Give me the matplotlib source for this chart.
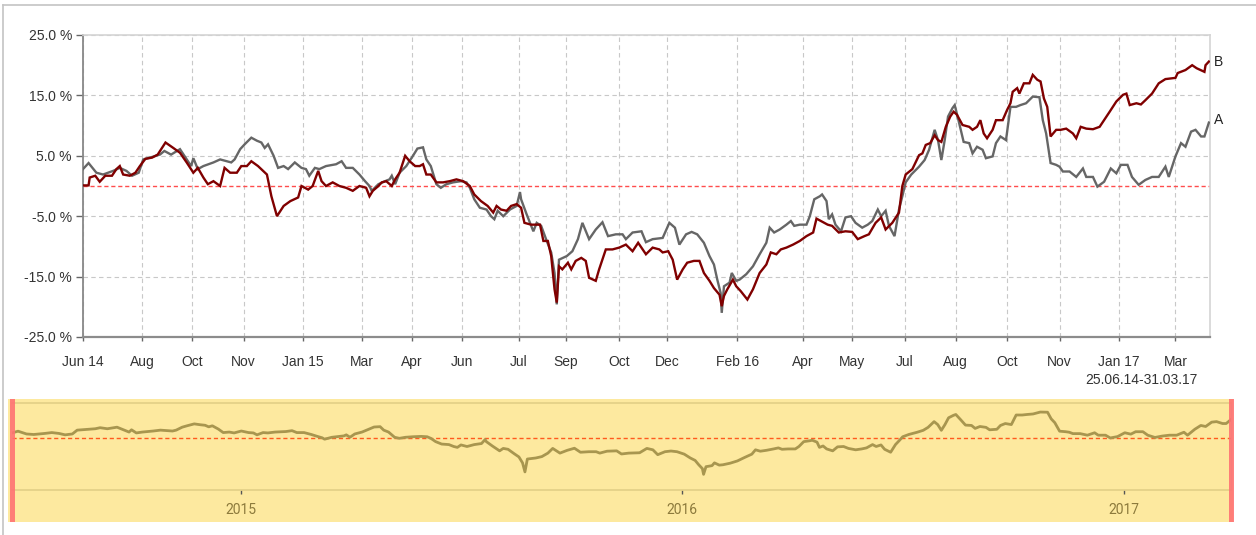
import matplotlib
matplotlib.use("Agg")
import matplotlib.pyplot as plt
import numpy as np
from matplotlib.patches import Rectangle
from matplotlib.lines import Line2D

# ---------------- data (days since 25.06.2014, performance in %) ----------------
start_date = np.datetime64("2014-06-25")

days_a = [0, 5, 12, 18, 27, 33, 39, 44, 50, 54, 60, 69, 73, 79, 87, 93, 97, 99, 103, 108,
          117, 123, 129, 133, 136, 141, 145, 151, 156, 160, 163, 166, 171, 175, 180, 184, 190,
          196, 200, 203, 208, 212, 218, 227, 232, 236, 242, 248, 253, 257, 259, 265, 271, 275,
          277, 280, 284, 290, 296, 300, 305, 308, 312, 317, 321, 326, 332, 339, 344, 347, 351,
          356, 362, 366, 369, 372, 377, 383, 389, 392, 393, 398, 404, 407, 411, 416, 420, 423,
          425, 427, 434, 439, 444, 448, 454, 460, 466, 471, 478, 484, 487, 493, 501, 505, 511,
          520, 526, 531, 535, 541, 546, 551, 557, 562, 566, 569, 572, 573, 575, 580, 582, 586,
          589, 595, 601, 607, 613, 616, 620, 625, 631, 635, 638, 643, 649, 652, 656, 661, 663,
          667, 669, 672, 675, 680, 684, 689, 693, 699, 704, 708, 713, 716, 720, 723, 728, 732,
          735, 738, 743, 750, 755, 759, 764, 767, 770, 773, 776, 780, 782, 786, 790, 795, 798,
          802, 807, 810, 816, 819, 823, 828, 832, 837, 841, 846, 852, 858, 861, 864, 868, 873,
          876, 879, 885, 891, 897, 900, 906, 910, 916, 922, 927, 931, 937, 941, 947, 953, 959,
          965, 971, 974, 980, 985, 989, 994, 998, 1003, 1006, 1010]
vals_a = [2.8, 3.8, 2.2, 1.9, 2.5, 3.0, 2.5, 1.7, 2.2, 4.4, 4.7, 5.2, 5.8, 5.2, 6.1, 4.4, 3.3, 4.6,
          2.8, 3.3, 3.9, 4.4, 4.1, 3.9, 4.4, 6.1, 6.9, 8.0, 7.5, 7.2, 6.3, 6.9, 5.0, 3.0, 3.3, 2.8,
          3.9, 3.0, 2.8, 1.7, 3.0, 2.8, 3.3, 3.6, 4.1, 3.0, 3.0, 1.9, 0.8, 0.0, -0.8, 0.3, 0.8, 1.1,
          1.7, 0.3, 2.2, 3.3, 5.0, 6.2, 6.4, 4.4, 3.3, 0.3, -0.3, 0.3, 0.6, 0.8, 0.6, -0.3, -2.2,
          -3.6, -3.9, -5.0, -5.5, -4.1, -5.0, -3.9, -3.3, -1.0, -2.2, -4.7, -7.5, -6.1, -6.6, -9.1,
          -11.0, -14.4, -19.6, -12.2, -11.6, -10.8, -8.8, -6.1, -8.8, -7.2, -6.0, -8.3, -8.0, -8.0,
          -8.8, -7.7, -7.5, -9.3, -8.8, -8.6, -6.1, -6.9, -9.7, -8.0, -7.6, -8.0, -9.4, -11.6, -13.0,
          -15.5, -17.7, -21.0, -16.6, -16.0, -14.4, -15.7, -15.5, -14.6, -13.3, -11.3, -9.4, -6.9,
          -7.7, -7.2, -6.4, -5.8, -6.6, -6.4, -6.4, -5.0, -2.2, -1.7, -1.4, -2.5, -5.5, -4.7, -6.4,
          -7.5, -5.2, -5.0, -6.1, -6.9, -6.4, -5.8, -3.9, -5.0, -4.1, -6.6, -8.3, -3.9, -1.7, 0.6,
          1.9, 3.2, 4.3, 6.0, 9.3, 7.6, 4.3, 7.6, 11.5, 12.9, 13.4, 10.4, 7.3, 7.1, 5.4, 6.5, 6.0,
          4.6, 4.9, 7.1, 8.2, 7.6, 13.1, 13.1, 13.4, 13.7, 14.8, 14.7, 10.9, 8.7, 3.8, 3.5, 3.2,
          2.4, 2.4, 1.5, 2.9, 1.5, 1.5, -0.1, 0.7, 2.9, 2.1, 3.5, 3.5, 1.5, 0.2, 1.0, 1.5, 1.5,
          3.2, 1.5, 4.9, 7.1, 6.5, 9.0, 9.3, 8.2, 8.2, 10.5]

days_b = [0, 5, 6, 11, 15, 20, 26, 30, 33, 36, 42, 47, 51, 56, 62, 67, 74, 81, 87, 93, 99, 103,
          108, 112, 117, 123, 127, 132, 138, 142, 147, 151, 157, 165, 169, 174, 180, 186, 193, 196,
          202, 206, 211, 214, 218, 224, 230, 236, 242, 248, 254, 257, 260, 265, 268, 272, 277, 280,
          284, 289, 293, 298, 302, 305, 308, 312, 317, 323, 329, 335, 341, 347, 351, 357, 363, 368,
          371, 375, 380, 384, 389, 393, 396, 402, 410, 413, 417, 420, 423, 425, 427, 430, 435, 438,
          442, 447, 451, 454, 460, 463, 469, 475, 481, 487, 493, 498, 505, 511, 517, 520, 525, 529,
          533, 538, 542, 548, 553, 557, 562, 566, 571, 573, 575, 578, 583, 586, 590, 596, 601, 607,
          613, 617, 622, 626, 631, 637, 643, 649, 655, 658, 662, 668, 672, 678, 684, 690, 695, 701,
          705, 711, 716, 720, 726, 732, 735, 738, 744, 750, 753, 756, 760, 764, 767, 770, 774, 778,
          781, 784, 789, 795, 798, 802, 805, 808, 811, 816, 819, 825, 829, 832, 834, 838, 840, 844,
          849, 852, 856, 859, 862, 865, 868, 873, 877, 882, 888, 891, 895, 900, 906, 912, 916, 921,
          927, 933, 936, 939, 945, 949, 953, 959, 965, 971, 980, 982, 989, 995, 999, 1006, 1007, 1010]
vals_b = [0.1, 0.1, 1.4, 1.7, 0.7, 1.7, 1.7, 2.8, 3.3, 1.9, 1.7, 2.2, 3.3, 4.5, 4.7, 5.2, 7.2, 6.3,
          5.5, 3.9, 2.2, 3.0, 1.4, 0.3, 0.8, 0.0, 3.0, 2.2, 2.2, 3.3, 3.3, 4.1, 3.3, 1.9, -1.7, -5.0,
          -3.3, -2.5, -1.9, 0.0, -0.6, 0.0, 2.5, 0.8, 0.0, 0.6, 0.0, -0.3, -0.8, 0.0, -0.3, -1.7,
          -0.8, 0.0, 0.6, 0.8, 0.0, 1.1, 2.2, 5.0, 4.1, 3.3, 3.3, 3.6, 1.9, 1.9, 0.6, 0.6, 0.8, 1.1,
          0.8, 0.0, -1.4, -2.5, -3.3, -4.4, -3.3, -3.9, -4.1, -3.3, -3.0, -3.6, -6.1, -6.4, -6.4,
          -9.1, -9.1, -11.6, -17.1, -19.3, -13.3, -13.8, -12.7, -13.8, -12.4, -11.9, -12.4, -15.2,
          -15.7, -13.8, -10.5, -10.5, -10.2, -9.7, -10.8, -9.4, -11.3, -10.2, -10.5, -11.0, -10.8,
          -12.2, -15.5, -13.8, -12.7, -12.4, -12.4, -14.4, -15.7, -16.9, -18.0, -19.9, -18.2, -17.1,
          -15.5, -16.6, -17.4, -18.8, -17.1, -14.4, -13.0, -11.0, -11.3, -10.5, -10.2, -9.7, -9.1,
          -8.3, -7.7, -5.4, -5.8, -6.4, -6.6, -7.7, -7.5, -7.6, -8.8, -8.3, -8.0, -6.1, -5.2, -7.2,
          -6.1, -4.4, 0.0, 1.9, 2.8, 5.1, 5.4, 6.8, 7.1, 8.4, 7.6, 7.3, 9.8, 11.5, 12.3, 11.8, 10.1,
          9.8, 9.3, 9.8, 10.9, 8.7, 7.9, 9.3, 10.9, 10.9, 12.6, 13.7, 15.6, 16.2, 15.3, 17.0, 17.0,
          18.4, 17.6, 17.3, 14.5, 13.1, 8.2, 9.3, 9.3, 9.5, 8.7, 7.9, 9.8, 9.5, 9.4, 9.8, 10.9, 12.3,
          14.0, 15.1, 15.3, 13.4, 13.7, 13.5, 14.2, 15.3, 17.0, 17.7, 17.9, 18.7, 19.2, 20.0, 19.5,
          18.9, 20.0, 20.6]

series_labels = ["A", "B"]
tick_days = [0, 53, 98, 144, 197, 250, 295, 340, 391, 433, 481, 524, 587, 646, 690, 737,
             783, 829, 876, 929, 980]
tick_labels = ["Jun 14", "Aug", "Oct", "Nov", "Jan 15", "Mar", "Apr", "Jun", "Jul", "Sep",
               "Oct", "Dec", "Feb 16", "Apr", "May", "Jul", "Aug", "Oct", "Nov", "Jan 17", "Mar"]
y_ticks = [-25, -15, -5, 5, 15, 25]
year_labels = ["2015", "2016", "2017"]
period_text = "25.06.14-31.03.17"

# ---------------- figure ----------------
W, H = 1256, 535
plt.rcParams["font.family"] = ["Liberation Sans", "DejaVu Sans"]
fig = plt.figure(figsize=(W / 100, H / 100), dpi=100)
fig.patch.set_facecolor("white")


def frame(x0, y0, x1, y1):
    return [x0 / W, 1 - y1 / H, (x1 - x0) / W, (y1 - y0) / H]


# outer border (top and left)
fig.add_artist(Line2D([3 / W, 1.0], [1 - 5 / H, 1 - 5 / H], color="#c4c4c4", lw=1.2))
fig.add_artist(Line2D([3 / W, 3 / W], [0, 1 - 5 / H], color="#c4c4c4", lw=1.2))

# ---------------- main chart ----------------
ax = fig.add_axes(frame(83, 35, 1210, 337))
ax.set_xlim(0, 1011)
ax.set_ylim(-25, 25)
ax.plot(days_a, vals_a, color="#666666", lw=1.7, zorder=3, solid_joinstyle="miter")
ax.plot(days_b, vals_b, color="#800000", lw=1.7, zorder=4, solid_joinstyle="miter")
ax.axhline(0, color="#ff4d4d", lw=1.0, ls=(0, (3, 2)), zorder=2)

ax.set_yticks(y_ticks)
ax.set_yticklabels([f"{v:.1f} %" for v in y_ticks])
ax.set_xticks(tick_days)
ax.set_xticklabels(tick_labels)
ax.grid(True, color="#c8c8c8", ls=(0, (4, 3)), lw=0.8, zorder=1)
ax.tick_params(axis="y", direction="out", length=5, width=1, color="#666666",
               labelsize=10, labelcolor="#333333", pad=3)
ax.tick_params(axis="x", direction="out", length=3, width=1, color="#666666",
               labelsize=10, labelcolor="#333333", pad=10)
for side in ("top", "right"):
    ax.spines[side].set_color("#d4d4d4")
    ax.spines[side].set_linewidth(1.2)
ax.spines["left"].set_color("#888888")
ax.spines["left"].set_linewidth(1.3)
ax.spines["bottom"].set_color("#8c8c8c")
ax.spines["bottom"].set_linewidth(1.6)

ax.annotate(series_labels[1], xy=(days_b[-1], vals_b[-1]), xytext=(5, 0),
            textcoords="offset pixels", va="center", ha="left", fontsize=10, color="#222222")
ax.annotate(series_labels[0], xy=(days_a[-1], vals_a[-1]), xytext=(5, 3),
            textcoords="offset pixels", va="center", ha="left", fontsize=10, color="#222222")

fig.text(1198 / W, 1 - 380 / H, period_text, ha="right", va="center", fontsize=10,
         color="#333333")

# ---------------- navigator ----------------
fig.add_artist(Rectangle((8 / W, 1 - 522 / H), (1233 - 8) / W, (522 - 399) / H,
                         transform=fig.transFigure, facecolor="#fde99f", edgecolor="none",
                         zorder=0))
nav = fig.add_axes(frame(12, 403, 1231, 490))
nav.set_facecolor("none")
nav.set_xlim(0, 1010)
nav.set_ylim(-30, 20)
nav.plot(days_a, vals_a, color="#a8964f", lw=2.0, zorder=3)
nav.axhline(0, color="#ff5a1e", lw=1.0, ls=(0, (3, 2)), zorder=2)
year_days = [int((np.datetime64(f"{y}-01-01") - start_date).astype(int)) for y in year_labels]
nav.set_xticks(year_days)
nav.set_xticklabels(year_labels)
nav.set_yticks([])
nav.tick_params(axis="x", direction="out", length=3, width=1, color="#555555",
                labelsize=10, labelcolor="#8c7a3c", pad=6)
for lab in nav.get_xticklabels():
    lab.set_family(["Roboto", "DejaVu Sans"])
nav.spines["left"].set_visible(False)
nav.spines["right"].set_color("#c8c8c8")
nav.spines["right"].set_linewidth(1.0)
for side in ("top", "bottom"):
    nav.spines[side].set_color("#e2cf86")
    nav.spines[side].set_linewidth(1.2)

# navigator handles
for x0 in (10, 1229):
    fig.add_artist(Rectangle((x0 / W, 1 - 522 / H), 5 / W, (522 - 399) / H,
                             transform=fig.transFigure, facecolor="#ff7373",
                             edgecolor="none", alpha=0.9, zorder=5))

fig.savefig("out.png", dpi=100)
